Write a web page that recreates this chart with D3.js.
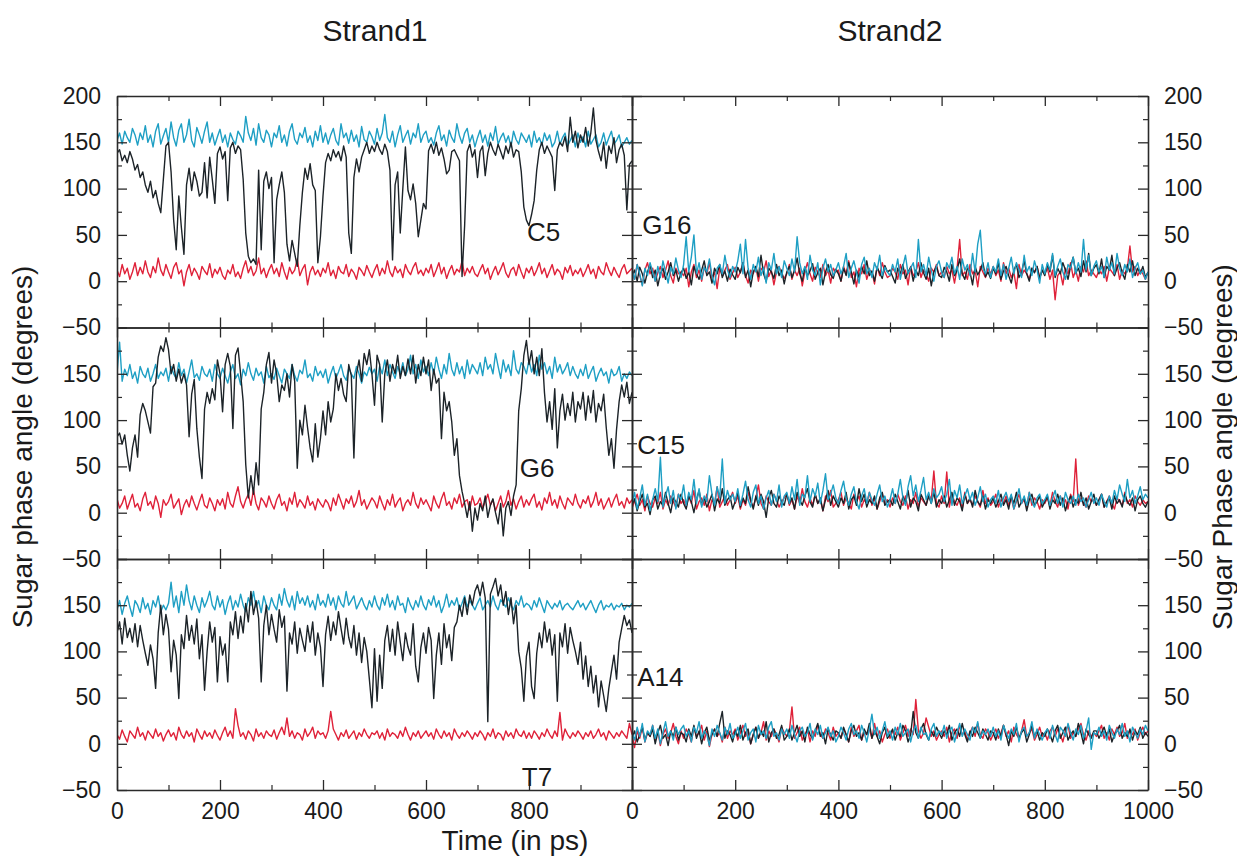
<!DOCTYPE html>
<html><head><meta charset="utf-8">
<script src="https://cdn.jsdelivr.net/npm/d3@7"></script>
<style>
body{margin:0;background:#fff}
text{font-family:"Liberation Sans",Arial,Helvetica,sans-serif;fill:#1a1a1a}
</style>
</head><body>
<svg id="c" width="1237" height="857"></svg>
<script>
// time axis: 0..1000 ps every 5 ps
const times = d3.range(0, 1001, 5);
const xMajor = [0,200,400,600,800,1000];
const xMinor = [100,300,500,700,900];
const yMajor = [-50,0,50,100,150,200];
const yMinor = [-25,25,75,125,175];

// ---------- Strand1 : C5 ----------
const c5Black = [
138,142,130,136,128,140,132,120,126,112,118,104,96,108,90,98,84,74,110,146,
150,118,66,34,92,58,29,104,122,98,118,108,92,96,128,90,134,110,84,138,
145,132,140,87,144,150,138,146,142,110,52,27,20,24,18,120,34,108,118,100,
112,20,88,104,118,96,40,22,44,30,16,60,96,122,110,127,104,98,20,48,
92,128,138,130,142,134,140,130,146,134,52,30,112,132,118,134,142,150,138,146,
140,150,142,137,148,140,120,23,104,118,52,100,145,98,88,105,84,48,66,84,
78,141,148,138,150,136,144,132,116,120,140,142,136,130,5,60,140,148,134,142,
112,140,146,114,138,150,142,136,148,140,132,146,138,150,134,142,140,118,80,66,
60,72,87,120,142,150,138,146,140,134,98,142,150,146,156,140,177,150,162,144,
158,150,166,146,160,187,152,140,130,150,122,146,138,155,128,142,148,136,77,126,130];
const c5Cyan = [
152,160,148,162,155,150,165,158,147,160,153,168,150,158,145,162,170,148,157,165,
150,172,155,146,163,170,150,158,175,152,145,166,158,149,162,172,150,160,147,156,
164,150,158,145,160,153,148,162,157,150,178,160,152,165,147,170,155,150,163,158,
145,160,155,168,150,158,146,162,170,153,148,160,155,166,150,157,145,162,152,168,
150,160,148,158,165,152,147,170,155,160,149,163,151,158,145,167,153,150,162,156,
148,165,152,160,180,155,150,162,145,158,168,150,157,163,148,160,155,170,150,158,
162,150,155,147,160,168,152,158,146,163,155,150,170,157,149,160,165,150,158,145,
155,163,150,158,146,160,152,167,148,155,160,150,157,145,162,153,148,160,155,150,
158,145,162,150,155,147,160,152,158,145,150,162,148,155,160,146,152,158,145,160,
150,156,145,162,148,153,158,145,150,160,147,155,162,148,152,158,145,150,155,148,152];
const c5Red = [
12,5,18,8,14,2,10,20,6,15,8,22,10,4,16,9,25,12,6,18,
10,3,15,20,8,12,-5,10,18,6,14,9,2,16,11,7,19,4,13,8,
15,6,2,12,8,18,5,10,3,14,22,9,16,6,11,25,8,14,4,12,
18,8,14,5,20,10,2,15,8,12,24,6,13,18,-4,10,16,7,12,5,
14,9,20,6,12,3,16,10,8,18,5,13,9,2,15,11,6,17,10,4,
12,18,6,14,8,22,10,5,16,9,13,4,18,11,7,15,20,8,12,6,
14,9,18,5,12,20,8,15,3,11,17,7,13,10,22,6,14,9,16,8,
5,12,18,8,14,2,10,16,7,13,20,9,4,12,15,6,18,10,3,14,
9,16,6,12,20,8,14,4,11,18,7,13,10,2,15,9,17,6,12,8,
14,5,11,18,8,13,3,16,10,7,20,12,6,15,9,4,13,18,8,11,14];

// ---------- Strand1 : G6 ----------
const g6Black = [
82,86,74,84,62,45,70,84,60,106,118,110,98,86,136,140,168,180,174,189,
176,150,160,142,155,140,150,138,82,128,144,91,60,37,112,130,118,134,122,165,
150,109,160,172,158,91,170,178,150,120,52,16,40,20,54,30,112,130,160,173,
140,165,150,120,138,132,150,125,160,142,48,100,84,116,92,70,55,96,60,80,
110,84,120,98,112,150,132,145,128,120,160,148,59,150,165,142,172,160,176,150,
116,170,160,98,150,165,142,160,150,170,145,158,148,166,150,170,140,160,148,168,
150,165,132,155,140,145,80,130,110,120,98,62,80,40,23,10,-5,12,-20,5,
-8,10,2,18,-5,8,15,0,-12,10,-25,5,12,-3,18,30,110,134,170,186,
160,175,150,168,148,177,130,98,120,90,134,70,110,128,100,118,105,130,98,120,
112,130,100,126,108,132,98,118,110,128,92,62,80,48,90,120,138,125,141,118,130];
const g6Cyan = [
150,184,142,155,148,160,145,152,140,158,150,146,156,142,150,160,145,152,148,156,
142,158,150,145,162,148,155,140,152,165,146,150,143,158,150,147,155,142,160,150,
145,156,148,140,152,160,145,150,138,155,148,162,150,143,156,148,152,140,158,146,
150,144,156,148,140,155,150,145,160,148,142,154,150,165,146,150,142,158,148,153,
146,155,140,150,158,145,152,160,148,143,156,150,145,158,150,140,152,148,157,150,
155,142,158,150,165,148,160,152,145,158,150,162,148,155,170,150,160,145,165,152,
158,148,162,150,168,155,145,160,150,172,155,148,162,150,158,145,165,150,160,155,
150,162,148,168,155,160,150,172,158,145,165,152,160,148,175,155,150,162,158,150,
165,152,160,148,170,155,162,150,158,145,168,152,160,150,155,162,148,158,150,145,
155,148,160,145,152,158,142,150,156,148,152,140,155,148,150,158,142,150,145,152,148];
const g6Red = [
15,5,10,18,4,12,20,6,10,2,15,22,8,12,4,18,10,-5,14,8,
12,20,5,10,15,-2,8,14,6,18,10,3,12,20,8,5,16,10,2,14,
8,15,4,22,10,6,18,28,12,5,14,20,8,25,10,3,16,12,6,18,
10,4,14,20,8,12,2,16,9,22,6,14,10,5,18,8,12,3,15,10,
6,14,10,2,16,8,20,12,4,15,10,18,6,12,24,8,14,4,10,16,
12,5,18,10,3,14,8,20,6,12,16,2,10,14,8,22,10,5,16,9,
14,8,2,18,10,5,15,22,8,12,4,16,10,20,6,12,14,3,18,8,
10,16,5,12,20,8,14,2,10,18,6,12,24,8,15,4,12,18,6,14,
8,15,20,6,12,3,16,10,22,8,14,5,18,10,4,16,12,8,20,10,
5,14,10,18,6,12,22,8,15,4,10,16,6,14,20,8,12,5,16,10,14];

// ---------- Strand1 : T7 ----------
const t7Black = [
120,132,108,136,115,125,110,130,105,128,112,98,85,107,92,60,120,150,118,140,
124,78,112,96,49,118,103,139,112,128,108,135,92,118,58,100,132,110,126,67,
116,96,108,67,132,118,143,114,138,120,152,132,165,140,155,136,67,128,150,118,
140,124,110,145,126,138,57,120,108,132,98,125,112,100,128,110,132,96,120,105,
62,118,138,112,132,118,143,125,108,136,115,104,128,96,120,88,115,100,70,39,
103,46,96,60,112,128,100,124,96,132,110,90,120,105,96,130,84,67,104,120,
98,126,112,49,96,120,86,130,104,118,90,126,132,150,138,158,140,161,150,165,
172,160,175,158,24,162,170,179,160,172,150,165,140,158,130,150,100,82,46,95,
110,62,49,98,120,104,132,110,124,96,118,46,120,105,130,98,126,112,100,86,
110,70,95,62,84,55,74,40,68,52,35,60,78,96,70,110,125,139,128,134,120];
const t7Cyan = [
145,155,140,152,160,148,138,155,150,142,158,146,152,140,155,148,160,143,150,145,
152,175,148,160,142,165,150,172,155,145,160,150,142,158,148,155,165,150,145,160,
148,156,140,152,160,145,155,148,162,150,143,158,150,165,148,155,142,160,150,145,
158,150,145,162,150,168,155,148,160,145,165,152,158,150,160,148,155,145,162,150,
155,148,162,150,158,145,160,152,148,165,150,155,160,146,152,158,150,145,155,148,
160,150,145,158,150,162,148,155,145,160,150,152,142,158,150,145,155,148,160,150,
145,156,150,160,148,155,142,150,162,148,155,150,158,145,152,160,148,155,150,145,
152,158,145,150,155,148,160,150,145,156,152,148,158,150,145,155,150,160,148,152,
150,145,155,148,158,150,142,155,150,146,152,148,155,145,150,152,148,145,150,155,
148,152,145,150,155,148,142,150,155,145,150,148,152,145,150,148,152,145,150,148,152];
const t7Red = [
10,5,15,8,2,14,10,6,18,8,12,4,14,10,6,16,8,12,3,10,
15,8,12,4,18,10,6,14,8,12,2,16,10,5,14,8,12,6,15,9,
4,12,18,8,14,6,38,20,8,12,5,14,10,3,16,8,12,6,14,10,
8,15,5,12,18,10,28,8,14,6,12,10,4,16,8,12,18,6,14,10,
12,6,14,35,16,10,4,12,8,15,6,10,14,5,12,8,16,10,6,12,
10,14,6,12,4,16,8,12,10,6,14,8,18,10,4,12,8,14,6,10,
14,8,12,5,16,10,6,14,8,12,4,16,10,6,12,8,14,10,5,12,
8,14,10,4,12,8,16,6,12,10,4,14,8,12,6,16,10,8,14,6,
12,6,14,10,5,12,8,16,10,6,14,8,34,4,16,10,6,12,8,14,
10,5,12,8,14,6,10,16,8,12,4,14,10,6,12,8,14,10,6,22,10];

// ---------- Strand2 : G16 ----------
const g16Black = [
5,12,0,15,8,-2,10,18,4,12,-5,8,14,2,10,20,6,12,0,9,
14,3,10,-4,16,8,2,12,22,6,10,-2,14,8,18,4,11,0,13,7,
2,15,9,20,4,12,-6,10,16,5,28,8,0,14,10,3,18,6,12,-3,
10,16,4,12,25,8,0,15,6,11,19,2,9,14,-4,10,18,7,3,13,
8,0,14,6,20,10,-3,12,4,16,8,22,6,11,0,15,9,3,17,10,
12,5,-2,14,8,18,3,10,15,0,12,6,20,9,2,14,-5,10,16,6,
4,15,10,0,18,6,12,24,8,2,14,10,-4,16,7,12,20,5,10,3,
14,8,20,2,11,16,6,-2,12,18,4,10,22,8,0,14,9,16,3,12,
6,18,10,28,4,14,8,20,12,2,16,26,9,14,5,22,10,30,6,14,
18,8,24,4,16,12,28,6,14,20,9,2,18,10,22,6,14,8,16,4,10];
const g16Cyan = [
12,2,18,8,-5,14,6,20,10,0,16,4,22,10,-2,15,8,25,12,4,
18,48,10,26,50,8,20,2,15,10,24,6,-4,14,18,8,28,12,4,16,
10,22,40,8,45,14,2,18,10,26,6,15,-2,20,12,30,8,16,4,22,
14,6,24,10,48,20,8,16,2,28,12,6,20,-4,14,24,10,18,6,12,
20,8,16,30,4,14,22,10,-2,18,26,8,14,4,20,12,28,6,15,10,
6,18,10,24,2,16,28,8,14,20,4,45,10,18,6,26,12,0,16,22,
10,4,20,14,26,8,16,2,24,12,18,6,30,10,40,55,14,8,20,4,
16,10,24,6,18,2,14,26,8,20,12,4,28,10,16,6,22,12,-2,18,
8,20,12,30,6,16,24,10,2,18,14,26,8,20,10,45,12,28,6,16,
22,10,16,4,26,12,20,8,30,14,6,18,10,24,4,14,20,8,12,2,10];
const g16Red = [
10,2,18,6,-4,12,20,8,14,0,9,16,4,12,22,6,-2,14,8,10,
6,14,-6,10,18,4,12,0,15,8,20,3,10,-8,14,6,12,18,2,9,
15,4,10,20,6,-2,12,8,16,0,14,10,22,5,12,-4,10,16,8,3,
8,18,2,12,6,14,-5,10,20,8,0,15,10,4,18,6,12,-2,14,10,
12,0,16,8,22,4,10,-6,14,8,18,2,12,10,-3,16,6,20,10,4,
6,14,10,2,18,8,12,-4,16,6,10,20,4,12,8,0,14,10,18,6,
10,4,16,8,12,-2,14,45,6,10,2,18,8,12,-6,16,10,4,14,8,
16,6,12,0,20,8,14,4,10,-8,18,6,12,8,2,14,10,16,4,12,
8,14,2,12,-20,6,10,-4,14,8,20,4,12,0,16,10,22,6,12,8,
4,12,8,16,0,14,10,6,18,2,12,8,14,38,10,16,6,12,8,2,10];

// ---------- Strand2 : C15 ----------
const c15Black = [
8,15,2,12,20,6,10,-2,14,18,4,12,8,22,10,0,16,12,6,20,
10,4,18,12,0,14,24,8,16,6,12,20,2,15,10,26,8,14,18,4,
12,22,6,16,10,28,14,4,18,8,20,12,-5,16,24,10,6,18,12,8,
20,10,16,4,22,14,8,18,26,12,6,20,10,16,2,14,24,8,18,12,
6,16,10,22,4,14,18,8,26,12,20,6,14,10,18,4,16,22,8,12,
14,8,20,12,4,18,10,24,6,16,12,2,20,14,8,18,10,22,6,14,
10,18,6,14,22,8,16,12,2,20,10,16,6,24,12,8,18,4,14,10,
16,6,12,20,8,14,4,18,10,22,6,12,16,2,14,20,8,12,18,6,
12,18,4,14,10,20,8,16,2,12,18,6,14,10,22,8,16,4,12,20,
8,14,20,6,12,16,4,18,10,14,6,20,12,8,16,2,14,18,10,6,12];
const c15Cyan = [
10,22,4,16,30,8,20,2,14,26,12,60,6,18,28,10,24,4,20,14,
30,8,22,14,36,10,26,6,18,12,40,20,8,28,16,58,10,24,14,20,
12,26,8,20,34,14,6,22,30,10,18,4,16,24,8,20,12,30,6,18,
22,10,28,14,36,8,20,16,40,12,26,18,32,10,24,42,14,20,30,16,
10,24,34,16,8,20,28,12,4,18,26,10,22,14,8,20,30,12,18,6,
14,26,10,20,36,16,8,28,40,18,30,12,24,38,14,22,10,26,16,20,
28,12,20,36,8,24,16,30,10,18,26,14,22,8,16,28,12,20,6,14,
18,10,24,6,16,22,12,20,4,14,26,10,18,8,22,12,6,16,20,10,
14,20,8,16,24,10,18,6,22,14,10,18,8,20,12,16,6,14,22,10,
16,8,20,12,6,18,10,24,14,30,20,12,36,16,24,10,18,28,14,20,16];
const c15Red = [
5,12,20,8,14,2,18,10,6,16,10,22,4,14,8,18,12,6,20,10,
14,6,18,10,24,4,12,16,8,20,2,14,10,28,6,12,18,8,14,22,
10,18,4,14,8,22,12,6,16,30,10,4,18,12,8,20,14,6,12,16,
20,8,14,4,18,10,26,12,6,16,8,20,10,14,2,18,12,24,6,10,
14,22,8,16,10,4,20,12,18,6,14,10,22,8,16,4,12,20,10,14,
6,16,10,20,12,8,18,4,14,10,22,6,16,12,8,20,14,45,10,6,
18,10,44,6,20,12,8,16,4,22,10,14,8,18,12,6,24,10,16,8,
12,20,6,14,10,18,8,16,4,12,20,10,14,6,22,8,16,12,4,14,
10,16,8,22,12,6,18,10,14,4,20,12,58,8,16,10,6,18,12,14,
8,14,20,6,12,18,10,4,16,12,8,22,10,14,6,18,12,8,14,10,12];

// ---------- Strand2 : A14 ----------
const a14Black = [
6,14,2,10,18,4,12,8,16,0,12,20,6,10,-2,14,8,18,4,12,
10,2,16,8,20,6,14,0,12,18,4,10,16,8,22,35,6,14,10,2,
14,8,20,4,12,16,0,10,18,6,14,8,24,2,12,16,6,10,20,4,
8,16,4,12,20,8,14,2,18,10,6,14,22,8,12,0,16,10,4,14,
12,6,18,10,2,14,20,8,12,4,16,10,22,6,14,8,0,12,18,6,
10,16,4,12,8,20,14,2,10,35,12,6,16,22,10,4,14,8,18,12,
6,14,10,20,4,12,16,8,22,10,2,14,8,18,12,6,16,10,4,14,
12,4,16,8,20,10,-2,14,8,18,6,12,16,2,10,20,8,14,4,12,
8,16,10,2,14,20,6,12,18,4,10,14,8,22,12,0,16,10,6,14,
14,6,12,18,8,16,2,10,14,20,6,12,8,16,4,14,10,18,6,12,8];
const a14Cyan = [
12,4,18,8,22,2,14,10,20,6,16,0,12,24,8,14,4,18,10,16,
20,8,14,2,18,12,24,6,14,10,-2,16,8,20,12,4,18,10,22,6,
10,18,6,14,22,4,12,16,2,20,10,14,6,18,24,8,12,4,16,10,
16,6,20,10,2,14,18,8,12,22,4,16,10,20,6,12,18,8,14,2,
8,18,12,4,16,22,10,14,6,20,12,2,16,32,10,18,6,14,24,8,
14,4,18,10,22,8,12,16,2,14,20,6,18,10,12,4,16,22,8,14,
10,20,6,14,18,2,12,22,8,16,10,4,18,12,24,6,14,10,16,8,
18,8,14,4,20,12,6,16,10,22,2,14,18,8,12,24,6,16,10,4,
12,16,6,20,10,2,18,14,8,22,12,4,16,10,20,6,14,28,-6,12,
10,18,8,14,4,20,12,6,16,10,22,8,14,2,18,12,6,16,10,20,14];
const a14Red = [
10,-4,14,6,18,2,12,8,20,4,14,-2,10,16,6,12,22,8,0,14,
6,16,10,2,18,8,12,20,4,14,-3,10,16,8,12,2,18,6,14,10,
16,4,12,20,8,14,0,10,18,6,12,24,4,14,8,16,10,2,18,12,
8,14,40,6,12,18,4,10,16,2,14,8,20,10,6,16,12,4,18,8,
12,6,16,10,2,18,8,14,20,4,12,10,16,6,22,8,14,2,10,16,
6,14,10,18,4,12,20,8,16,10,48,14,6,12,28,18,8,14,4,10,
14,8,18,2,12,16,6,20,10,14,4,12,18,8,22,10,6,16,12,4,
10,16,6,12,20,8,14,2,18,10,6,14,26,8,12,16,4,10,18,8,
12,4,14,18,8,16,10,2,14,20,6,12,8,16,22,10,4,14,8,12,
8,14,20,6,12,4,16,10,18,8,12,22,6,14,10,16,4,12,18,10,14];

// ---------- layout ----------
const colX = [[117,632],[632,1148]];
const rowY = [[96,327.5],[327.5,559],[559,790]];
const COLORS = {black:"#1c2328", cyan:"#1e9fc4", red:"#df2139"};

const panels = [
  {name:"C5",  col:0,row:0, s:{red:c5Red,  cyan:c5Cyan,  black:c5Black},  lt:796, lv:53},
  {name:"G16", col:1,row:0, s:{red:g16Red, black:g16Black, cyan:g16Cyan}, lt:20,  lv:61},
  {name:"G6",  col:0,row:1, s:{red:g6Red,  cyan:g6Cyan,  black:g6Black},  lt:782, lv:48},
  {name:"C15", col:1,row:1, s:{red:c15Red, black:c15Black, cyan:c15Cyan}, lt:10,  lv:73},
  {name:"T7",  col:0,row:2, s:{red:t7Red,  cyan:t7Cyan,  black:t7Black},  lt:786, lv:-36},
  {name:"A14", col:1,row:2, s:{red:a14Red, black:a14Black, cyan:a14Cyan}, lt:10,  lv:72}
];

const svg = d3.select("#c");
const defs = svg.append("defs");
const fmt = d3.format("");

panels.forEach((p, k) => {
  const [x0,x1] = colX[p.col], [yT,yB] = rowY[p.row];
  const xs = d3.scaleLinear().domain([0,1000]).range([x0,x1]);
  const ys = d3.scaleLinear().domain([-50,200]).range([yB,yT]);
  defs.append("clipPath").attr("id","clip"+k).append("rect")
    .attr("x",x0).attr("y",yT).attr("width",x1-x0).attr("height",yB-yT);
  const g = svg.append("g");
  const lg = g.append("g").attr("clip-path","url(#clip"+k+")");
  Object.entries(p.s).forEach(([col, vals]) => {
    const line = d3.line().x((d,i)=>xs(times[i])).y(d=>ys(d));
    lg.append("path").datum(vals).attr("d", line)
      .attr("fill","none").attr("stroke", COLORS[col])
      .attr("stroke-width",1.4).attr("stroke-linejoin","round");
  });

  const isBottom = p.row === 2;
  const xFmt = d => (isBottom && !(p.col===0 && d===1000)) ? fmt(d) : "";
  const yFmt = d => (d===200 && p.row!==0) ? "" : fmt(d);

  const mk = (axis, tr, fmtFn, pad) => {
    const a = g.append("g").attr("transform", tr).call(axis.tickSizeOuter(0).tickPadding(pad).tickFormat(fmtFn));
    a.select(".domain").attr("stroke","#2a2a2a").attr("stroke-width",1.6);
    a.selectAll(".tick line").attr("stroke","#2a2a2a").attr("stroke-width",1.3);
    a.selectAll("text").attr("font-size",23).attr("fill","#1a1a1a")
      .attr("font-family","'Liberation Sans',Arial,sans-serif");
    return a;
  };
  const mkMinor = (axis, tr) => {
    const a = g.append("g").attr("transform", tr).call(axis.tickSizeOuter(0).tickFormat(""));
    a.select(".domain").remove();
    a.selectAll(".tick line").attr("stroke","#2a2a2a").attr("stroke-width",1.2);
  };
  mk(d3.axisBottom(xs).tickValues(xMajor).tickSize(-10), `translate(0,${yB})`, xFmt, 13);
  mkMinor(d3.axisBottom(xs).tickValues(xMinor).tickSize(-5), `translate(0,${yB})`);
  mk(d3.axisTop(xs).tickValues(xMajor).tickSize(-10), `translate(0,${yT})`, ()=> "", 0);
  mkMinor(d3.axisTop(xs).tickValues(xMinor).tickSize(-5), `translate(0,${yT})`);
  mk(d3.axisLeft(ys).tickValues(yMajor).tickSize(-10), `translate(${x0},0)`, p.col===0 ? yFmt : ()=>"", 16);
  mkMinor(d3.axisLeft(ys).tickValues(yMinor).tickSize(-5), `translate(${x0},0)`);
  mk(d3.axisRight(ys).tickValues(yMajor).tickSize(-10), `translate(${x1},0)`, p.col===1 ? yFmt : ()=>"", 16);
  mkMinor(d3.axisRight(ys).tickValues(yMinor).tickSize(-5), `translate(${x1},0)`);

  g.append("text").attr("x", xs(p.lt)).attr("y", ys(p.lv))
    .attr("dominant-baseline","central").attr("font-size",26).text(p.name);
});

// titles
svg.append("text").attr("x",375).attr("y",30).attr("text-anchor","middle")
  .attr("dominant-baseline","central").attr("font-size",30).text("Strand1");
svg.append("text").attr("x",890).attr("y",30).attr("text-anchor","middle")
  .attr("dominant-baseline","central").attr("font-size",30).text("Strand2");
svg.append("text").attr("x",515).attr("y",840).attr("text-anchor","middle")
  .attr("dominant-baseline","central").attr("font-size",28).text("Time (in ps)");
svg.append("text").attr("transform","translate(22,447) rotate(-90)").attr("text-anchor","middle")
  .attr("dominant-baseline","central").attr("font-size",28).text("Sugar phase angle (degrees)");
svg.append("text").attr("transform","translate(1222,447) rotate(-90)").attr("text-anchor","middle")
  .attr("dominant-baseline","central").attr("font-size",28).text("Sugar Phase angle (degrees)");
</script>
</body></html>
